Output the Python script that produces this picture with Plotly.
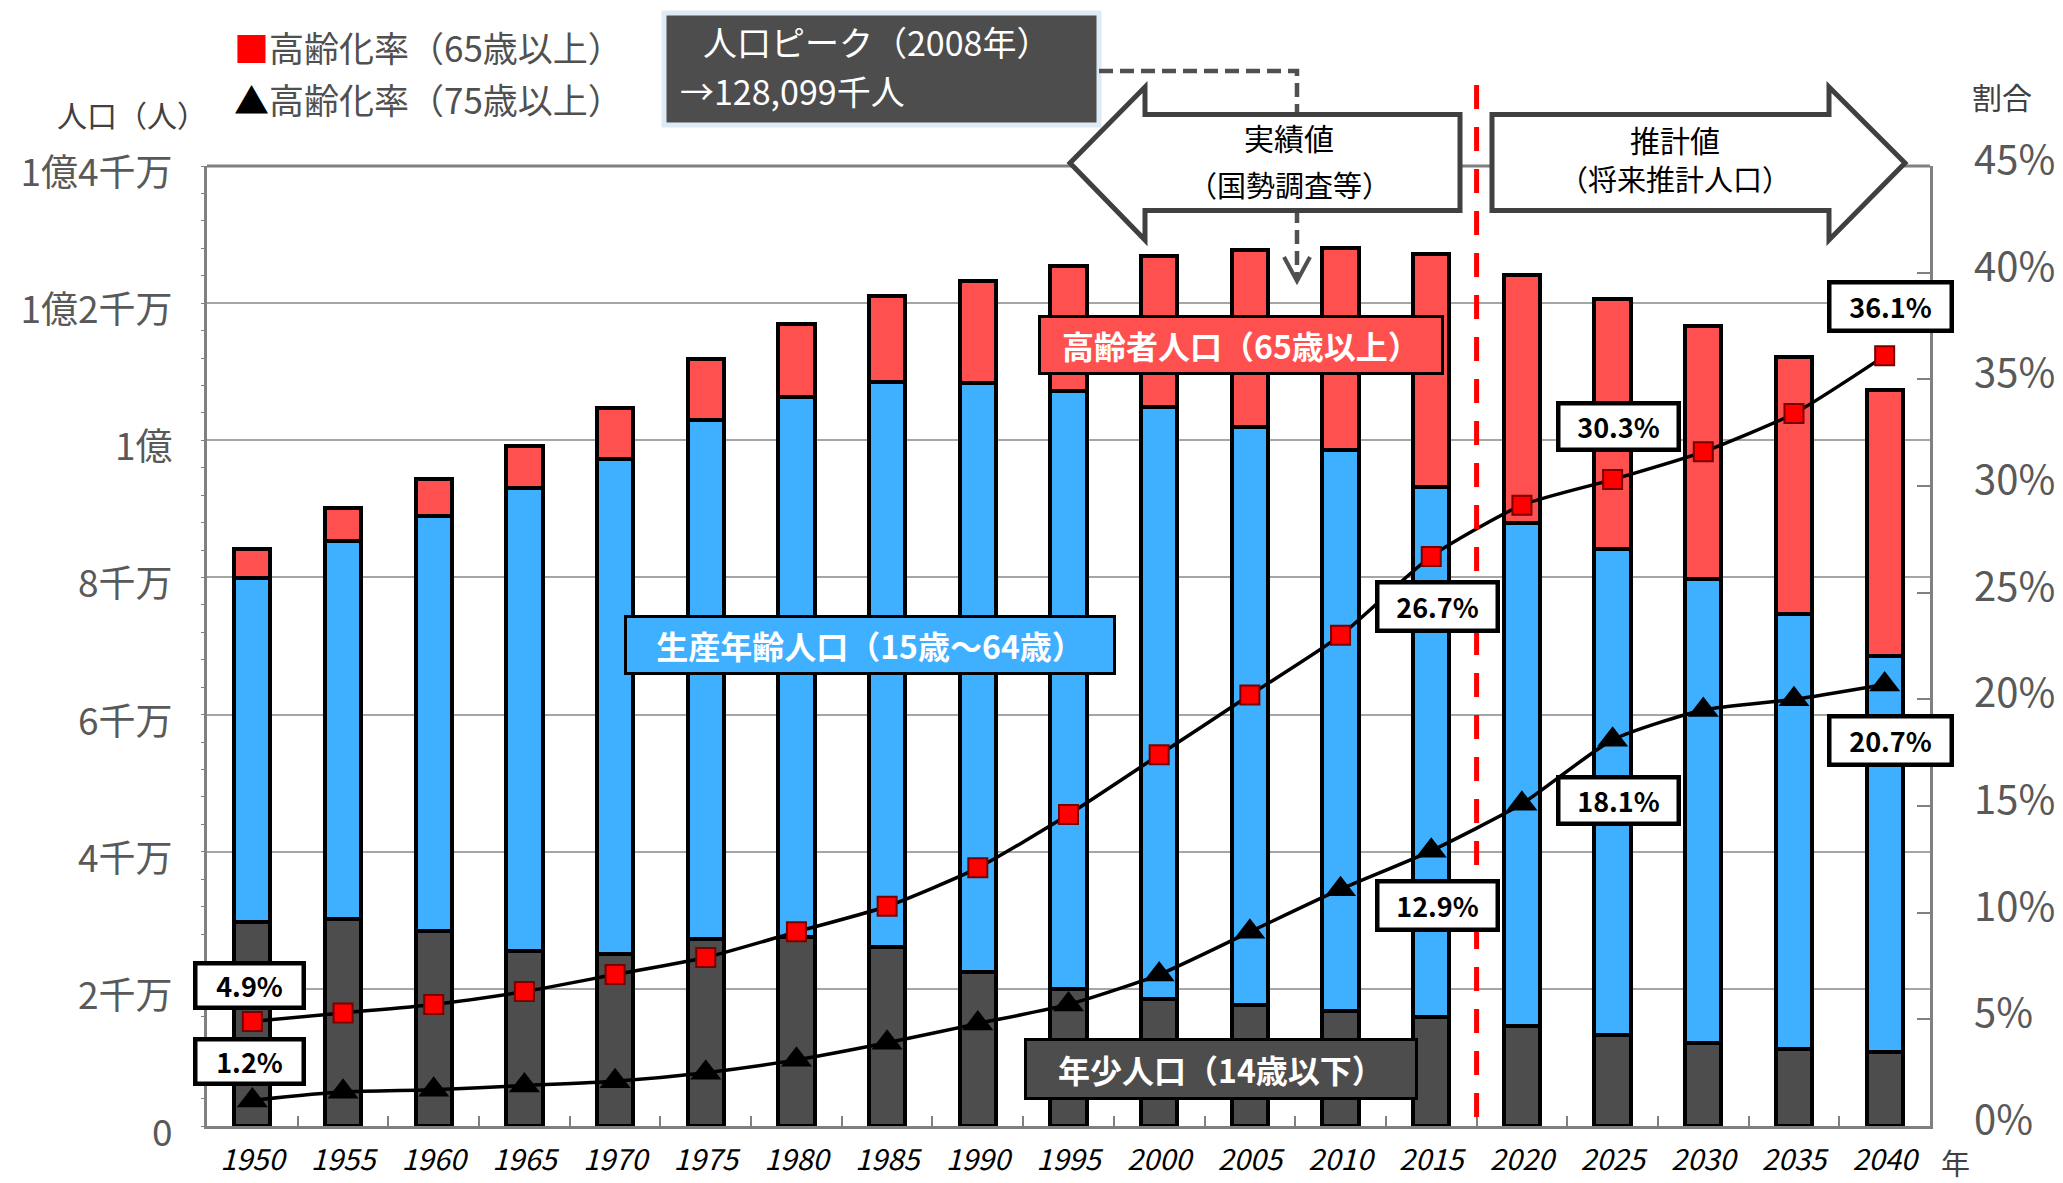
import plotly.graph_objects as go

# ---------------- data (thousands of people / percent) ----------------
years = ['1950', '1955', '1960', '1965', '1970', '1975', '1980', '1985', '1990', '1995',
         '2000', '2005', '2010', '2015', '2020', '2025', '2030', '2035', '2040']
young = [29786, 30123, 28434, 25529, 25153, 27221, 27507, 26033, 22486, 20014,
         18505, 17585, 16839, 15945, 14568, 13240, 12039, 11287, 10732]
working = [50168, 55167, 60469, 67444, 72119, 75807, 78835, 82506, 85904, 87165,
           86380, 84422, 81735, 77282, 73408, 70845, 67730, 63430, 57866]
elderly = [4155, 4786, 5398, 6236, 7393, 8865, 10647, 12468, 14895, 18261,
           22041, 25761, 29484, 33868, 36124, 36573, 36849, 37407, 38678]
rate65 = [4.9, 5.3, 5.7, 6.3, 7.1, 7.9, 9.1, 10.3, 12.1, 14.6,
          17.4, 20.2, 23.0, 26.7, 29.1, 30.3, 31.6, 33.4, 36.1]
rate75 = [1.2, 1.6, 1.7, 1.9, 2.1, 2.5, 3.1, 3.9, 4.8, 5.7,
          7.1, 9.1, 11.1, 12.9, 15.1, 18.1, 19.5, 20.0, 20.7]

left_tickvals = [0, 20000, 40000, 60000, 80000, 100000, 120000, 140000]
left_ticktext = ['0', '2千万', '4千万', '6千万', '8千万', '1億', '1億2千万', '1億4千万']
right_tickvals = [0, 5, 10, 15, 20, 25, 30, 35, 40, 45]
right_ticktext = [f"{v}%" for v in right_tickvals]

# ---------------- layout helpers ----------------
W, H = 2063, 1183
ML, MR, MT, MB = 207, 133, 166, 57


def px(x):
    return (x - ML) / (W - ML - MR)


def py(y):
    return (H - MB - y) / (H - MT - MB)


FONT = "Noto Sans CJK JP"
DARK = '#4D4D4D'
BLUE = '#3FB0FF'
RED = '#FF5050'
GRAY = '#808080'

fig = go.Figure()
for name, vals, col in [('年少人口', young, DARK), ('生産年齢人口', working, BLUE),
                        ('高齢者人口', elderly, RED)]:
    fig.add_bar(x=years, y=vals, name=name, width=0.4,
                marker=dict(color=col, line=dict(color='black', width=4)))

fig.add_scatter(x=years, y=rate65, yaxis='y2', mode='lines+markers', name='高齢化率（65歳以上）',
                line=dict(color='black', width=3.5, shape='spline', smoothing=0.6),
                marker=dict(symbol='square', size=19, color='#FF0000',
                            line=dict(color='#7A0000', width=2)))
fig.add_scatter(x=years, y=rate75, yaxis='y2', mode='lines+markers', name='高齢化率（75歳以上）',
                line=dict(color='black', width=3.5, shape='spline', smoothing=0.6),
                marker=dict(symbol='triangle-up', size=27, color='black'))

shapes = []
# top frame line
shapes.append(dict(type='line', xref='paper', yref='paper', x0=0, x1=1, y0=1, y1=1,
                   line=dict(color=GRAY, width=3)))
# peak box
shapes.append(dict(type='rect', xref='paper', yref='paper', x0=px(664), x1=px(1099),
                   y0=py(125), y1=py(13), fillcolor=DARK, line=dict(color='#DDEBF7', width=5)))
# dashed connector
shapes.append(dict(type='path', xref='paper', yref='paper',
                   path=f"M{px(1099)},{py(71)} L{px(1297)},{py(71)} L{px(1297)},{py(279)}",
                   line=dict(color='#505050', width=4.5, dash='14px,7px')))
shapes.append(dict(type='path', xref='paper', yref='paper',
                   path=f"M{px(1284)},{py(257)} L{px(1297)},{py(281)} L{px(1310)},{py(257)}",
                   line=dict(color='#505050', width=4)))
# big arrows
la = [(1070, 163), (1145, 87), (1145, 114.5), (1460, 114.5), (1460, 210.5), (1145, 210.5), (1145, 240)]
ra = [(1905, 163), (1829, 87), (1829, 114.5), (1492, 114.5), (1492, 210.5), (1829, 210.5), (1829, 240)]
for pts in (la, ra):
    p = 'M' + ' L'.join(f"{px(a)},{py(b)}" for a, b in pts) + ' Z'
    shapes.append(dict(type='path', xref='paper', yref='paper', path=p, fillcolor='white',
                       line=dict(color='#404040', width=5)))
# red dashed separator between 2015 and 2020
shapes.append(dict(type='line', xref='x', yref='paper', x0=13.5, x1=13.5, y0=py(1117), y1=py(72),
                   line=dict(color='#FF0000', width=5, dash='24px,18px')))

ann = []


def text(x, y, s, size, color='black', xanchor='center', align='center'):
    ann.append(dict(xref='paper', yref='paper', x=px(x), y=py(y), text=s, align=align,
                    showarrow=False, xanchor=xanchor, yanchor='middle',
                    font=dict(family=FONT, size=size, color=color)))


def box(x, y, s, w, h, size, bg, fg, bw):
    ann.append(dict(xref='paper', yref='paper', x=px(x), y=py(y), text=f"<b>{s}</b>",
                    showarrow=False, xanchor='center', yanchor='middle', width=w, height=h,
                    bgcolor=bg, bordercolor='black', borderwidth=bw, borderpad=2,
                    font=dict(family=FONT, size=size, color=fg)))


# legend-like texts
text(232, 47, "<span style='color:#FF0000'>■</span>高齢化率（65歳以上）", 35, '#505050', 'left', 'left')
text(232, 99, "<span style='color:#000000'>▲</span>高齢化率（75歳以上）", 35, '#505050', 'left', 'left')
text(132, 114, "人口（人）", 30, '#404040')
text(2002, 96, "割合", 30, '#404040')
text(1955, 1162, "年", 29, '#404040')
# peak box text
text(701, 41, "人口ピーク（2008年）", 34, 'white', 'left', 'left')
text(678, 90, "→128,099千人", 34, 'white', 'left', 'left')
# arrow texts
text(1289, 137, "実績値", 30)
text(1289, 184, "（国勢調査等）", 29)
text(1675, 139, "推計値", 30)
text(1675, 178, "（将来推計人口）", 29)
# category boxes
box(870, 645, "生産年齢人口（15歳～64歳）", 482, 50, 32, BLUE, 'white', 3)
box(1241, 345, "高齢者人口（65歳以上）", 396, 50, 32, RED, 'white', 3)
box(1221, 1069, "年少人口（14歳以下）", 384, 52, 32, DARK, 'white', 3)
# value label boxes
lab = lambda v: f"{v:.1f}%"
box(249, 985, lab(rate65[0]), 100, 36, 27, 'white', 'black', 4.5)
box(249, 1061, lab(rate75[0]), 100, 36, 27, 'white', 'black', 4.5)
box(1437, 606, lab(rate65[13]), 112, 40, 27, 'white', 'black', 4.5)
box(1437, 905, lab(rate75[13]), 112, 40, 27, 'white', 'black', 4.5)
box(1618, 426, lab(rate65[15]), 112, 38, 27, 'white', 'black', 4.5)
box(1618, 801, lab(rate75[15]), 112, 38, 27, 'white', 'black', 4.5)
box(1890, 306, lab(rate65[18]), 114, 40, 27, 'white', 'black', 4.5)
box(1890, 740, lab(rate75[18]), 114, 40, 27, 'white', 'black', 4.5)

fig.update_layout(
    width=W, height=H, autosize=False,
    margin=dict(l=ML, r=MR, t=MT, b=MB, pad=0),
    paper_bgcolor='white', plot_bgcolor='white',
    barmode='stack', showlegend=False,
    font=dict(family=FONT),
    xaxis=dict(type='category', range=[-0.5, 18.5], showline=True, linecolor=GRAY, linewidth=3,
               ticks='inside', tickson='boundaries', ticklen=10, tickcolor=GRAY, tickwidth=2,
               tickfont=dict(family=FONT, size=29, color='black', style='italic'),
               ticklabelstandoff=6, showgrid=False, zeroline=False, automargin=False),
    yaxis=dict(range=[0, 140000], tickvals=left_tickvals, ticktext=left_ticktext,
               showgrid=True, gridcolor='#A6A6A6', gridwidth=2, showline=True, linecolor=GRAY,
               linewidth=3, ticks='', tickfont=dict(family=FONT, size=37, color='#595959'),
               ticklabelstandoff=24, ticklabelshift=7, zeroline=False, automargin=False,
               minor=dict(dtick=4000, ticks='outside', ticklen=3, tickcolor=GRAY, showgrid=False)),
    yaxis2=dict(overlaying='y', side='right', range=[0, 45], tickvals=right_tickvals,
                ticktext=right_ticktext, showgrid=False, showline=True, linecolor=GRAY, linewidth=3,
                ticks='inside', ticklen=13, tickcolor=GRAY, tickwidth=2,
                tickfont=dict(family=FONT, size=40, color='#595959'), ticklabelstandoff=33,
                ticklabelshift=-6, zeroline=False, automargin=False),
    shapes=shapes, annotations=ann,
)

fig.write_html("out.html")
